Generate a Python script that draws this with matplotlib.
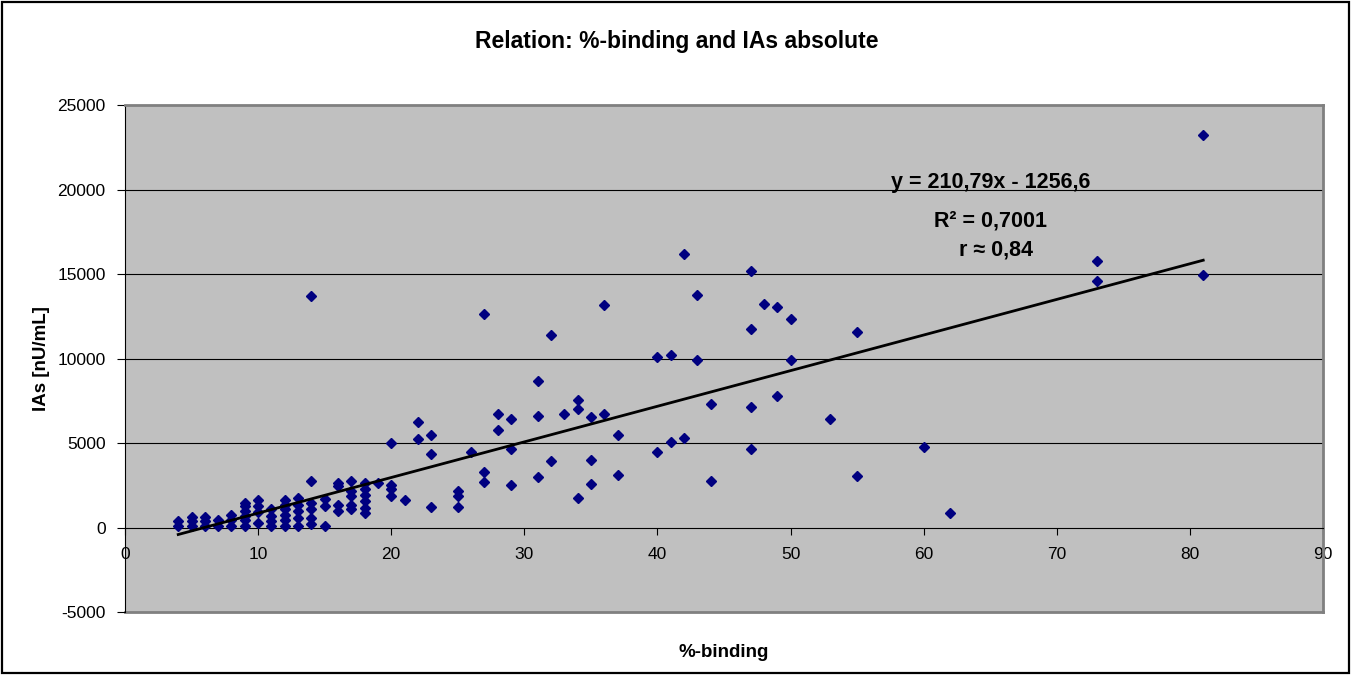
import numpy as np
import matplotlib
matplotlib.use("Agg")
import matplotlib.pyplot as plt
from matplotlib.patches import Rectangle

plt.rcParams['font.family'] = ['Liberation Sans', 'DejaVu Sans']
plt.rcParams['axes.unicode_minus'] = False

# %-binding and IAs values, grouped by x
binding = [4, 4,
           5, 5, 5,
           6, 6, 6,
           7, 7,
           8, 8, 8,
           9, 9, 9, 9, 9, 9,
           10, 10, 10, 10,
           11, 11, 11, 11,
           12, 12, 12, 12, 12, 12,
           13, 13, 13, 13, 13,
           14, 14, 14, 14, 14, 14,
           15, 15, 15,
           16, 16, 16, 16,
           17, 17, 17, 17, 17,
           18, 18, 18, 18, 18, 18,
           19,
           20, 20, 20, 20,
           21,
           22, 22,
           23, 23, 23,
           25, 25, 25,
           26,
           27, 27, 27,
           28, 28,
           29, 29, 29,
           31, 31, 31,
           32, 32,
           33,
           34, 34, 34,
           35, 35, 35,
           36, 36,
           37, 37,
           40, 40,
           41, 41,
           42, 42,
           43, 43,
           44, 44,
           47, 47, 47, 47,
           48,
           49, 49,
           50, 50,
           53,
           55, 55,
           60,
           62,
           73, 73,
           81, 81]
ias = [380, 80,
       650, 370, 80,
       650, 370, 80,
       470, 80,
       770, 470, 80,
       1460, 1260, 960, 700, 470, 80,
       1600, 1300, 900, 280,
       1100, 700, 370, 80,
       1620, 1360, 1070, 770, 470, 80,
       1760, 1360, 960, 570, 80,
       13700, 2740, 1460, 1070, 570, 180,
       1660, 1260, 80,
       2640, 2440, 1360, 960,
       2740, 2150, 1850, 1360, 1070,
       2640, 2250, 1950, 1560, 1160, 870,
       2640,
       4990, 2540, 2250, 1850,
       1620,
       6250, 5210,
       5480, 4370, 1190,
       2150, 1870, 1190,
       4460,
       12660, 3260, 2720,
       6690, 5750,
       6430, 4670, 2490,
       8660, 6590, 3000,
       11400, 3940,
       6690,
       7570, 7020, 1720,
       6530, 4020, 2580,
       13140, 6690,
       5470, 3100,
       10100, 4460,
       10200, 5050,
       16200, 5300,
       13730, 9940,
       7280, 2740,
       15170, 11760, 7120, 4620,
       13200,
       13040, 7810,
       12350, 9940,
       6430,
       11570, 3070,
       4790,
       850,
       15780, 14560,
       23230, 14930]

# linear trend line as printed on the chart
slope = 210.79
intercept = -1256.6

fig = plt.figure(figsize=(13.51, 6.75), dpi=100)
fig.patches.append(Rectangle((0.0015, 0.003), 0.997, 0.994, transform=fig.transFigure,
                             fill=False, edgecolor="black", linewidth=1.6))

ax = fig.add_axes([0.0925, 0.0933, 0.8868, 0.7511])
ax.set_facecolor("#C0C0C0")
ax.set_xlim(0, 90)
ax.set_ylim(-5000, 25000)
ax.set_xticks(np.arange(0, 91, 10))
ax.set_yticks(np.arange(-5000, 25001, 5000))

for g in [5000, 10000, 15000, 20000]:
    ax.axhline(g, color="black", linewidth=0.8, zorder=1)

for side in ["top", "right"]:
    ax.spines[side].set_color("#808080")
    ax.spines[side].set_linewidth(2)
ax.spines["bottom"].set_position(("data", 0))
ax.spines["bottom"].set_color("black")
ax.spines["left"].set_color("black")
ax.axhline(-5000, color="#808080", linewidth=2, zorder=1, clip_on=False)

ax.tick_params(axis="y", direction="out", length=6, pad=8, labelsize=12.5, colors="black")
ax.tick_params(axis="x", direction="out", length=5, pad=9, labelsize=12.5, colors="black")

ax.plot(binding, ias, linestyle="none", marker="D", markersize=4.6,
        color="#000080", zorder=3)

xs = np.array([min(binding), max(binding)])
ax.plot(xs, slope * xs + intercept, color="black", linewidth=2, zorder=4)

ax.text(65, 20400, "y = 210,79x - 1256,6", ha="center", va="center",
        fontsize=15.5, fontweight="bold")
ax.text(65, 18150, "R\u00b2 = 0,7001", ha="center", va="center",
        fontsize=15.5, fontweight="bold")
ax.text(65.4, 16450, "r \u2248 0,84", ha="center", va="center",
        fontsize=15.5, fontweight="bold")

fig.text(0.501, 0.939, "Relation: %-binding and IAs absolute", ha="center", va="center",
         fontsize=16.5, fontweight="bold")
ax.set_xlabel("%-binding", fontsize=13.5, fontweight="bold")
ax.set_ylabel("IAs [nU/mL]", fontsize=13.5, fontweight="bold")
ax.xaxis.set_label_coords(0.4995, -0.063)
ax.yaxis.set_label_coords(-0.0626, 0.5)

fig.savefig("out.png", dpi=100)
